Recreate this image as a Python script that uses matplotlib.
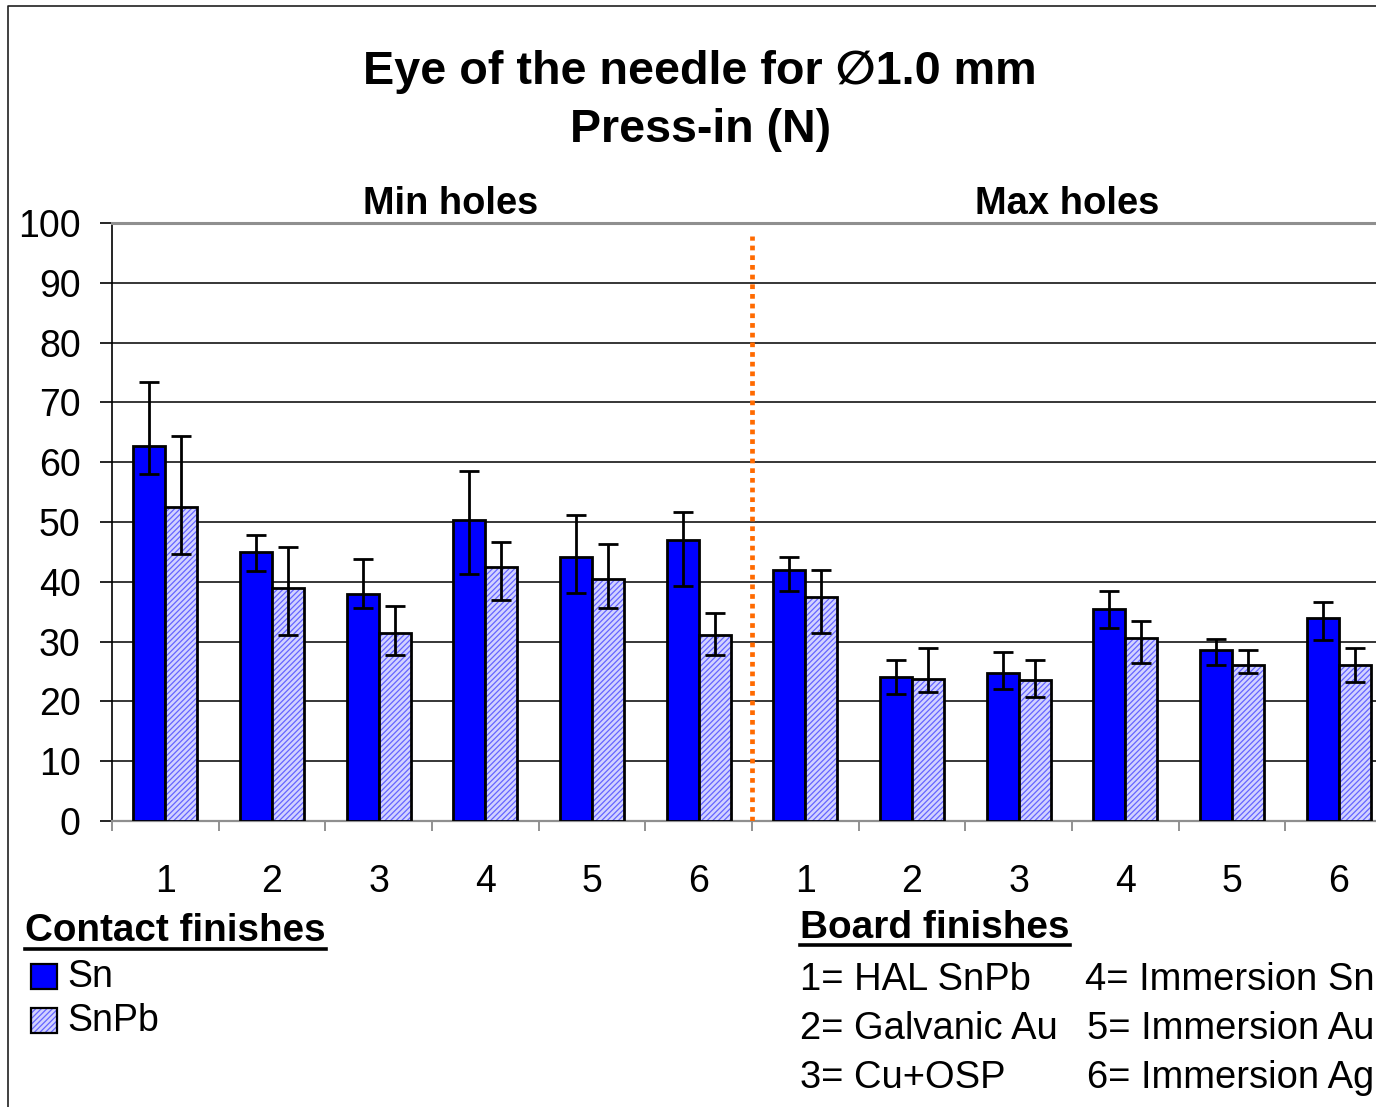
import matplotlib
matplotlib.use("Agg")
import matplotlib.pyplot as plt
import numpy as np
from matplotlib.transforms import Affine2D
from matplotlib.patches import Rectangle
from matplotlib.lines import Line2D

plt.rcParams['font.family'] = ['Liberation Sans', 'DejaVu Sans']
plt.rcParams['hatch.linewidth'] = 0.9

# ---------------- data ----------------
tick_labels = ["1", "2", "3", "4", "5", "6", "1", "2", "3", "4", "5", "6"]
group_titles = ["Min holes", "Max holes"]
series_names = ["Sn", "SnPb"]

sn_min = [62.7, 45.0, 38.0, 50.3, 44.2, 47.0]
sn_min_hi = [73.4, 47.9, 43.8, 58.6, 51.2, 51.6]
sn_min_lo = [58.1, 41.8, 35.6, 41.3, 38.1, 39.3]
snpb_min = [52.5, 38.9, 31.5, 42.5, 40.5, 31.1]
snpb_min_hi = [64.3, 45.9, 36.0, 46.6, 46.3, 34.8]
snpb_min_lo = [44.6, 31.1, 27.8, 36.9, 35.6, 27.8]

sn_max = [42.0, 24.1, 24.8, 35.5, 28.6, 33.9]
sn_max_hi = [44.1, 27.0, 28.2, 38.4, 30.5, 36.7]
sn_max_lo = [38.4, 21.2, 22.1, 32.3, 26.1, 30.2]
snpb_max = [37.5, 23.7, 23.6, 30.6, 26.1, 26.1]
snpb_max_hi = [42.0, 29.0, 27.0, 33.5, 28.6, 29.0]
snpb_max_lo = [31.4, 21.6, 20.8, 26.5, 24.8, 23.2]

board_finishes = ["1= HAL SnPb", "2= Galvanic Au", "3= Cu+OSP",
                  "4= Immersion Sn", "5= Immersion Au", "6= Immersion Ag"]

# ---------------- figure ----------------
W, H = 1376, 1107
fig = plt.figure(figsize=(W / 100, H / 100), dpi=100)
px = Affine2D().scale(1 / W, -1 / H).translate(0, 1) + fig.transFigure
renderer = fig.canvas.get_renderer()

# outer frame
fig.add_artist(Line2D([8, 8, W + 10], [H + 10, 6, 6], transform=px,
                      color='#202020', lw=1.2))

ax_l, ax_r, ax_t, ax_b = 112, 1392, 223, 821
ax = fig.add_axes([ax_l / W, 1 - ax_b / H, (ax_r - ax_l) / W, (ax_b - ax_t) / H])

sn = np.array(sn_min + sn_max)
sn_hi = np.array(sn_min_hi + sn_max_hi)
sn_lo = np.array(sn_min_lo + sn_max_lo)
pb = np.array(snpb_min + snpb_max)
pb_hi = np.array(snpb_min_hi + snpb_max_hi)
pb_lo = np.array(snpb_min_lo + snpb_max_lo)
x = np.arange(len(tick_labels))
bw = 0.3

blue = '#0000ff'
hatch_face = '#d2d2ff'
hatch_col = '#6464ff'

ax.bar(x - bw / 2, sn, bw, color=blue, edgecolor='black', linewidth=2.0, zorder=3)
ax.bar(x + bw / 2, pb, bw, facecolor=hatch_face, edgecolor=hatch_col, linewidth=0,
       hatch='//////', zorder=3)
ax.bar(x + bw / 2, pb, bw, fill=False, edgecolor='black', linewidth=2.0, zorder=3.1)

ax.errorbar(x - bw / 2, sn, yerr=[sn - sn_lo, sn_hi - sn], fmt='none', ecolor='black',
            elinewidth=2.0, capsize=7.5, capthick=2.0, zorder=4)
ax.errorbar(x + bw / 2, pb, yerr=[pb - pb_lo, pb_hi - pb], fmt='none', ecolor='black',
            elinewidth=2.0, capsize=7.5, capthick=2.0, zorder=4)

ax.axvline(5.5, ymin=0, ymax=0.978, color='#ff6a00', lw=3.4,
           linestyle=(0, (1, 1.05)), zorder=5)

ax.set_xlim(-0.5, 11.5)
ax.set_ylim(0, 100)
ax.set_yticks(np.arange(0, 101, 10))
ax.yaxis.grid(True, color='black', lw=1.1)
ax.set_axisbelow(True)

ax.set_xticks(np.arange(-0.5, 12, 1))
ax.set_xticklabels([])
ax.set_xticks(x, minor=True)
ax.set_xticklabels(tick_labels, minor=True)
ax.tick_params(axis='x', which='major', direction='out', length=7.5, width=1.2,
               color='#7f7f7f')
ax.tick_params(axis='x', which='minor', length=0, pad=31, labelsize=27)
ax.tick_params(axis='y', direction='out', length=8.5, width=1.2, color='black',
               pad=14, labelsize=27)

ax.spines['right'].set_visible(False)
ax.spines['top'].set_color('#8f8f8f')
ax.spines['top'].set_linewidth(2.2)
ax.spines['bottom'].set_color('#8f8f8f')
ax.spines['bottom'].set_linewidth(1.6)
ax.spines['left'].set_color('black')
ax.spines['left'].set_linewidth(1.2)


def put(s, xx, yy, target_w=None, size=24, weight='normal', ha='left'):
    t = fig.text(xx, yy, s, transform=px, ha=ha, va='baseline', fontsize=size,
                 fontweight=weight)
    if target_w is not None:
        w = t.get_window_extent(renderer).width
        t.set_fontsize(size * target_w / w)
    return t


# titles
put("Eye of the needle for \u22051.0 mm", 700, 84, target_w=675, size=30,
    weight='bold', ha='center')
put("Press-in (N)", 701, 142, target_w=261, size=30, weight='bold', ha='center')
put(group_titles[0], 451, 214, target_w=176, size=24, weight='bold', ha='center')
put(group_titles[1], 1067, 214, target_w=185, size=24, weight='bold', ha='center')

# contact finishes legend
t = put("Contact finishes", 25, 941, target_w=302, size=24, weight='bold')
bb = t.get_window_extent(renderer)
fig.add_artist(Line2D([25, 25 + bb.width], [949, 949], transform=px, color='black', lw=2.6))
fig.add_artist(Rectangle((31, 964), 26, 25, transform=px, facecolor=blue,
                         edgecolor='black', lw=1.6))
fig.add_artist(Rectangle((31, 1008), 26, 25, transform=px, facecolor=hatch_face,
                         edgecolor=hatch_col, lw=0, hatch='//////'))
fig.add_artist(Rectangle((31, 1008), 26, 25, transform=px, fill=False,
                         edgecolor='black', lw=1.6))
t1 = put(series_names[0], 67, 987, target_w=46, size=24)
put(series_names[1], 67, 1031, size=t1.get_fontsize())

# board finishes legend
t = put("Board finishes", 800, 938, target_w=270, size=24, weight='bold')
bb = t.get_window_extent(renderer)
fig.add_artist(Line2D([800, 800 + bb.width], [945, 945], transform=px, color='black', lw=2.6))
tb = put(board_finishes[1], 800, 1039, target_w=257, size=24)
fsz = tb.get_fontsize()
put(board_finishes[0], 800, 990, size=fsz)
put(board_finishes[2], 800, 1088, size=fsz)
put(board_finishes[3], 1085, 990, size=fsz)
put(board_finishes[4], 1087, 1039, size=fsz)
put(board_finishes[5], 1087, 1088, size=fsz)

fig.savefig("out.png", dpi=100)
